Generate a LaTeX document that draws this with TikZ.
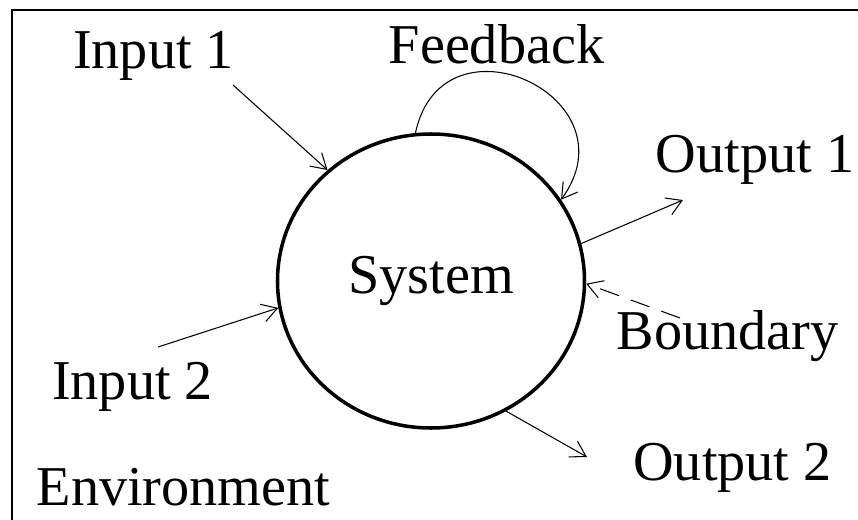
\documentclass[tikz,border=0pt]{standalone}
\usepackage{fontspec}
\setmainfont{Liberation Serif}
\usetikzlibrary{arrows.meta,shapes.geometric}
\tikzset{
  lbl/.style={font=\fontsize{32}{38}\selectfont, inner sep=0pt, anchor=base},
  sysnode/.style={draw, ellipse, line width=2pt, minimum width=6.14cm,
                  minimum height=5.88cm, font=\fontsize{32}{38}\selectfont},
  flow/.style={line width=0.6pt, -{Straight Barb[length=3mm,width=3.6mm]}},
}

\begin{document}
\begin{tikzpicture}
    \useasboundingbox (0,0) rectangle (17.16,10.38);
    \draw[line width=0.8pt] (0.24,-1) rectangle (18,10.18);
    % the system and its labels
    \node[sysnode] (sys) at (8.62,4.76) {System};
    \node[lbl] (in1) at (3.07,9.02) {Input 1};
    \node[lbl] (fb) at (9.93,9.12) {Feedback};
    \node[lbl] (out1) at (15.10,6.94) {Output 1};
    \node[lbl] (bnd) at (14.55,3.40) {Boundary};
    \node[lbl] (in2) at (2.65,2.40) {Input 2};
    \node[lbl] (out2) at (14.65,0.78) {Output 2};
    \node[lbl] (env) at (3.67,0.28) {Environment};
    % free ends of the flows
    \coordinate (in1s) at (4.66,8.68);
    \coordinate (in2s) at (3.16,3.44);
    \coordinate (out1e) at (13.66,6.38);
    \coordinate (out2e) at (11.74,1.24);
    \coordinate (bnds) at (13.60,4.02);
    % flows
    \draw[flow] (in1s) -- (sys.133);
    \draw[flow] (in2s) -- (sys.190);
    \draw[flow] (sys.14) -- (out1e);
    \draw[flow] (sys.300) -- (out2e);
    \draw[flow, dash pattern=on 0.4cm off 0.25cm] (bnds) -- (sys.359);
    \draw[flow] (sys.96) .. controls +(78:2.56) and +(54:2.56) .. (sys.32);
  \end{tikzpicture}
\end{document}
